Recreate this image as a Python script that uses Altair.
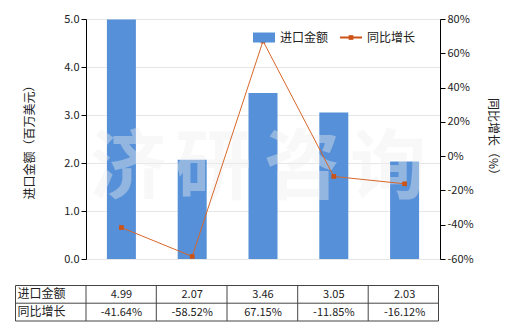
import altair as alt
import pandas as pd

categories = ["2011年", "2012年", "2013年", "2014年", "2015年1-9月"]
import_values = [4.99, 2.07, 3.46, 3.05, 2.03]
growth_values = [-41.64, -58.52, 67.15, -11.85, -16.12]
import_labels = ["4.99", "2.07", "3.46", "3.05", "2.03"]
growth_labels = ["-41.64%", "-58.52%", "67.15%", "-11.85%", "-16.12%"]
watermark_chars = ["济", "研", "咨", "询"]

BLUE = "#5590D8"
ORANGE = "#CC5216"
LINE = "#D8662A"
FONT = "Noto Sans CJK SC"

df = pd.DataFrame({
    "cat": categories,
    "val": import_values,
    "g": growth_values,
    "vl": import_labels,
    "gl": growth_labels,
})

W, H = 354, 240

xscale = alt.Scale(domain=categories, paddingInner=0, paddingOuter=0)
xenc = alt.X("cat:N", scale=xscale, sort=categories,
             axis=alt.Axis(title=None, labelAngle=0, labelFontSize=11, labelFont=FONT,
                           labelColor="#222", domainColor="#000", tickColor="#000",
                           labelPadding=4, tickSize=5, grid=False))
xplain = alt.X("cat:N", scale=xscale, sort=categories, axis=None)
gscale = alt.Scale(domain=[-60, 80])

base = alt.Chart(df)

bars = base.mark_bar(size=29, color=BLUE).encode(
    x=xenc,
    y=alt.Y("val:Q", scale=alt.Scale(domain=[0, 5]),
            axis=alt.Axis(title="进口金额（百万美元）", values=[0, 1, 2, 3, 4, 5], format=".1f",
                          labelFontSize=11, labelFont=FONT, labelColor="#222",
                          titleFont=FONT, titleFontSize=12, titleFontWeight="normal",
                          titleColor="#222", titlePadding=27,
                          domainColor="#000", tickColor="#000", tickSize=5,
                          gridColor="#e6e6e6", grid=True)),
)

watermark = alt.Chart(pd.DataFrame({"t": watermark_chars, "px": [42, 127, 216, 302]})).mark_text(
    font=FONT, fontSize=76, fontWeight="bold", color="#f0f0f0", opacity=0.4,
    baseline="middle", align="center"
).encode(text="t:N", x=alt.X("px:Q", scale=None), y=alt.value(151))

line = base.mark_line(color=LINE, strokeWidth=1).encode(
    x=xplain,
    y=alt.Y("g:Q", scale=gscale,
            axis=alt.Axis(title="同比增长（%）", orient="right", values=[-60, -40, -20, 0, 20, 40, 60, 80],
                          labelExpr="datum.value + '%'",
                          labelFontSize=11, labelFont=FONT, labelColor="#222",
                          titleFont=FONT, titleFontSize=12, titleFontWeight="normal",
                          titleColor="#222", titlePadding=12, titleAngle=90,
                          domainColor="#000", tickColor="#000", tickSize=5, grid=False)),
)
points = base.mark_point(shape="square", filled=True, size=22, color=ORANGE, opacity=1).encode(
    x=xplain,
    y=alt.Y("g:Q", scale=gscale, axis=None),
)

# legend
leg_rect = alt.Chart(pd.DataFrame({"a": [0]})).mark_rect(color=BLUE).encode(
    x=alt.value(167), x2=alt.value(189), y=alt.value(13.5), y2=alt.value(23.5))
leg_line = alt.Chart(pd.DataFrame({"a": [0]})).mark_rule(color=ORANGE, strokeWidth=2).encode(
    x=alt.value(254), x2=alt.value(276), y=alt.value(18.5))
leg_pt = alt.Chart(pd.DataFrame({"a": [0]})).mark_point(shape="square", filled=True, size=22,
                                                        color=ORANGE, opacity=1).encode(
    x=alt.value(265), y=alt.value(18.5))
leg_text = alt.Chart(pd.DataFrame({"t": ["进口金额", "同比增长"], "px": [194, 281]})).mark_text(
    font=FONT, fontSize=12, align="left", baseline="middle", color="#222").encode(
    text="t:N", x=alt.X("px:Q", scale=None), y=alt.value(18.5))

# data table
tx0, tx1 = -70.5, 352.5
row_top, row_mid, row_bot = 266.5, 284.2, 302
hlines = alt.Chart(pd.DataFrame({"yy": [row_top, row_mid, row_bot]})).mark_rule(
    color="#444", strokeWidth=1).encode(
    x=alt.value(tx0), x2=alt.value(tx1), y=alt.Y("yy:Q", scale=None))
vpos = [tx0, 0, 70.3, 141, 211.7, 282.2, tx1]
vlines = alt.Chart(pd.DataFrame({"xx": vpos})).mark_rule(color="#444", strokeWidth=1).encode(
    x=alt.X("xx:Q", scale=None), y=alt.value(row_top), y2=alt.value(row_bot))
row_labels = alt.Chart(pd.DataFrame({"t": ["进口金额", "同比增长"], "yy": [274.5, 292.5]})).mark_text(
    font=FONT, fontSize=12, align="left", baseline="middle", color="#222").encode(
    text="t:N", x=alt.value(-68.5), y=alt.Y("yy:Q", scale=None))
row1 = base.mark_text(font=FONT, fontSize=11, baseline="middle", color="#222").encode(
    x=xplain, text="vl:N", y=alt.value(276))
row2 = base.mark_text(font=FONT, fontSize=11, baseline="middle", color="#222").encode(
    x=xplain, text="gl:N", y=alt.value(294))

chart = alt.layer(
    bars, watermark, line, points, leg_rect, leg_line, leg_pt, leg_text,
    hlines, vlines, row_labels, row1, row2
).resolve_scale(y="independent").properties(
    width=W, height=H,
    autosize=alt.AutoSizeParams(type="none"),
    padding={"left": 86, "top": 19, "right": 80, "bottom": 71},
    background="white",
).configure_view(stroke=None)

chart.save("out.html", embed_options={"renderer": "svg", "actions": False})
